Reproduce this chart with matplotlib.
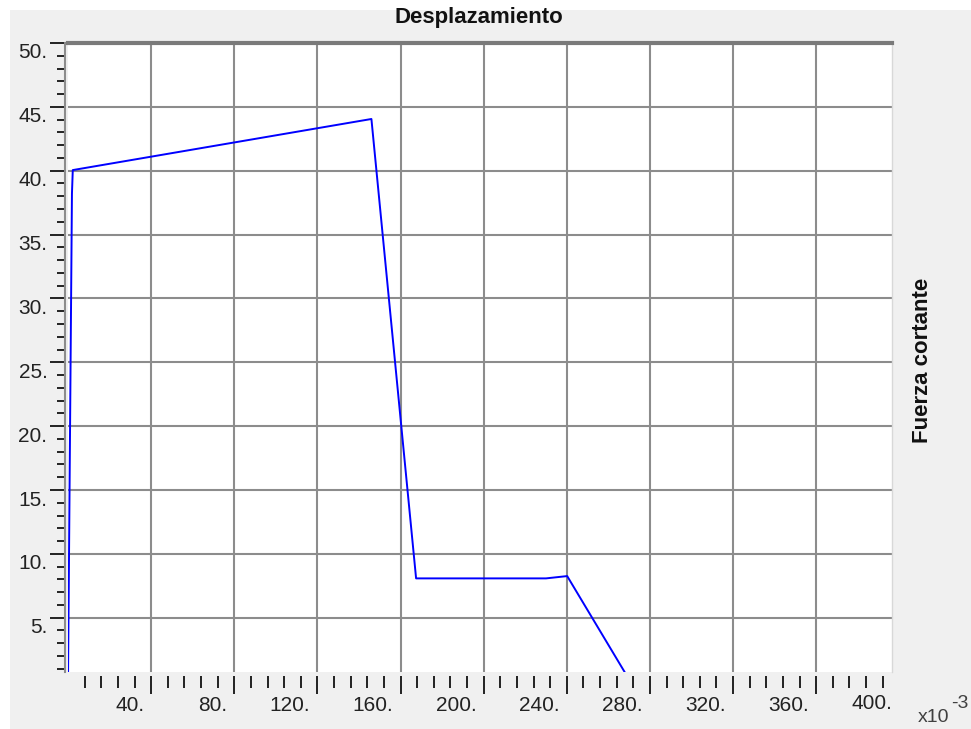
import matplotlib
matplotlib.use('Agg')
import matplotlib.pyplot as plt
import matplotlib.transforms as mtransforms
from matplotlib.patches import Rectangle

# desplazamiento (x10^-3) y fuerza cortante
desplazamiento = [0.0, 1.9, 2.3, 146.0, 167.5, 230.0, 240.2, 270.6]
fuerza = [0.0, 38.2, 40.05, 44.05, 8.08, 8.08, 8.26, 0.0]

x_major = [40, 80, 120, 160, 200, 240, 280, 320, 360]
x_labels = ['40.', '80.', '120.', '160.', '200.', '240.', '280.', '320.', '360.']
y_major = [5, 10, 15, 20, 25, 30, 35, 40, 45, 50]
y_labels = ['5.', '10.', '15.', '20.', '25.', '30.', '35.', '40.', '45.', '50.']

plt.rcParams['font.family'] = ['Liberation Sans', 'DejaVu Sans']

fig = plt.figure(figsize=(9.71, 7.29), dpi=100, facecolor='white')
fig.patches.append(Rectangle((10 / 971, 0), 961 / 971, 719 / 729, transform=fig.transFigure,
                             facecolor='#f0f0f0', edgecolor='none', zorder=-10))

ax = fig.add_axes([68 / 971, 1 - 672 / 729, 824 / 971, 629 / 729])
ax.set_facecolor('white')
ax.plot(desplazamiento, fuerza, color='#0000ff', lw=1.4, zorder=3)

ax.set_xlim(0, 396.5)
ax.set_ylim(0.75, 50)

ax.set_xticks(x_major, x_labels)
ax.set_xticks([v for v in range(8, 400, 8) if v % 40 != 0], minor=True)
ax.set_yticks(y_major, y_labels)
ax.set_yticks([v for v in range(1, 50) if v % 5 != 0], minor=True)

ax.grid(True, which='major', color='#8c8c8c', lw=1.5)
ax.set_axisbelow(True)

ax.tick_params(axis='y', which='major', direction='out', length=10.8, width=1.4,
               color='#222222', labelsize=15, pad=2, labelcolor='#222222')
ax.tick_params(axis='y', which='minor', direction='out', length=5.8, width=1.4, color='#222222')
ax.tick_params(axis='x', which='major', direction='out', length=13, width=1.4,
               color='#222222', labelsize=15, pad=1.5, labelcolor='#222222')
ax.tick_params(axis='x', which='minor', direction='out', length=8.6, width=1.4, color='#222222')

ax.spines['top'].set_color('#7a7a7a')
ax.spines['top'].set_linewidth(3)
ax.spines['right'].set_color('#d8d8d8')
ax.spines['right'].set_linewidth(1)
ax.spines['left'].set_color('#8c8c8c')
ax.spines['left'].set_linewidth(1.5)
ax.spines['left'].set_position(('outward', 2))
ax.spines['bottom'].set_position(('outward', 3))
ax.spines['bottom'].set_visible(False)

# labels desplazados como en el original
shift_y = mtransforms.ScaledTranslation(0, -8 / 100, fig.dpi_scale_trans)
for lab in ax.get_yticklabels():
    lab.set_transform(lab.get_transform() + shift_y)
shift_x = mtransforms.ScaledTranslation(-7 / 100, 0, fig.dpi_scale_trans)
for lab in ax.get_xticklabels():
    lab.set_horizontalalignment('right')
    lab.set_transform(lab.get_transform() + shift_x)

# etiqueta 400. (fuera del rango visible)
trans400 = mtransforms.blended_transform_factory(ax.transData, ax.transAxes)
ax.text(400, 0, '400.', transform=trans400 + mtransforms.ScaledTranslation(-7 / 100, -22 / 100, fig.dpi_scale_trans),
        ha='right', va='top', fontsize=15, color='#222222', clip_on=False)

fig.text(479 / 971, 1 - 18 / 729, 'Desplazamiento', ha='center', va='center',
         fontsize=16, fontweight='bold', color='#111111')
fig.text(922 / 971, 1 - 360 / 729, 'Fuerza cortante', ha='center', va='center',
         rotation=90, fontsize=16, fontweight='bold', color='#111111')
fig.text(918 / 971, 1 - 717 / 729, 'x10', ha='left', va='center', fontsize=14, color='#404040')
fig.text(951 / 971, 1 - 703 / 729, '-3', ha='left', va='center', fontsize=14, color='#404040')

fig.savefig('out.png', dpi=100, facecolor=fig.get_facecolor())
